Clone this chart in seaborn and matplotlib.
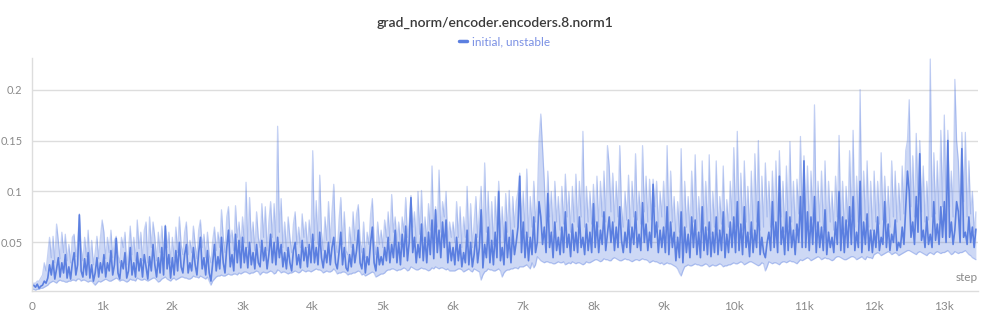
import numpy as np
import pandas as pd
import matplotlib
matplotlib.use("Agg")
import matplotlib.pyplot as plt
import seaborn as sns

# values in thousandths, one entry every 25 steps (0 .. 13450)
mean_vals = [
    7, 8, 6, 9, 5, 7, 8, 12, 10, 15,
    28, 18, 32, 14, 24, 35, 16, 30, 20, 38,
    15, 26, 14, 30, 40, 18, 28, 77, 22, 16,
    34, 18, 40, 15, 28, 12, 20, 35, 16, 30,
    20, 38, 16, 30, 22, 42, 18, 28, 54, 20,
    14, 32, 24, 40, 15, 22, 45, 18, 30, 16,
    40, 22, 34, 16, 38, 26, 14, 36, 22, 48,
    28, 16, 35, 20, 45, 18, 66, 24, 38, 15,
    35, 18, 42, 22, 50, 26, 20, 38, 48, 20,
    30, 22, 45, 28, 18, 40, 55, 24, 35, 18,
    42, 20, 12, 30, 48, 22, 36, 24, 55, 30,
    20, 45, 62, 26, 38, 22, 58, 30, 52, 25,
    55, 30, 45, 25, 50, 28, 40, 24, 48, 30,
    26, 52, 32, 45, 24, 38, 58, 30, 50, 28,
    55, 35, 48, 26, 40, 24, 45, 30, 22, 42,
    50, 28, 38, 25, 52, 32, 45, 26, 48, 30,
    58, 30, 45, 28, 60, 35, 25, 42, 30, 50,
    28, 45, 55, 30, 24, 40, 60, 28, 45, 25,
    22, 38, 26, 48, 30, 42, 62, 30, 24, 44,
    20, 36, 28, 50, 65, 30, 22, 45, 28, 36,
    28, 45, 32, 55, 30, 48, 35, 62, 30, 50,
    28, 58, 36, 66, 32, 50, 94, 40, 55, 30,
    48, 35, 68, 32, 55, 30, 60, 38, 72, 34,
    82, 40, 62, 35, 70, 45, 72, 30, 50, 32,
    45, 28, 55, 32, 48, 26, 40, 30, 62, 28,
    50, 26, 38, 58, 30, 45, 82, 25, 48, 35,
    65, 30, 52, 28, 60, 35, 100, 32, 45, 28,
    70, 35, 55, 30, 62, 38, 50, 65, 115, 40,
    70, 35, 60, 32, 55, 38, 75, 40, 50, 90,
    75, 48, 65, 40, 98, 45, 60, 35, 70, 42,
    55, 38, 65, 40, 80, 45, 58, 36, 68, 42,
    60, 40, 75, 45, 55, 38, 68, 42, 60, 40,
    88, 45, 70, 40, 62, 48, 80, 42, 58, 75,
    50, 70, 42, 65, 45, 85, 52, 40, 60, 45,
    72, 40, 65, 48, 80, 45, 58, 42, 89, 50,
    68, 42, 60, 45, 107, 55, 70, 40, 62, 45,
    65, 40, 85, 38, 70, 45, 60, 32, 55, 35,
    80, 30, 65, 40, 58, 35, 75, 45, 72, 38,
    60, 35, 85, 42, 65, 38, 70, 36, 60, 40,
    75, 38, 62, 42, 80, 35, 58, 40, 70, 45,
    75, 40, 90, 42, 68, 38, 85, 45, 60, 36,
    70, 40, 62, 45, 90, 38, 55, 40, 35, 50,
    60, 42, 90, 45, 70, 40, 115, 48, 65, 38,
    80, 42, 75, 45, 62, 38, 68, 50, 95, 45,
    130, 45, 80, 42, 75, 48, 95, 40, 70, 45,
    65, 42, 82, 38, 60, 45, 55, 40, 70, 48,
    100, 42, 75, 40, 72, 45, 85, 48, 95, 42,
    60, 45, 110, 40, 70, 48, 78, 42, 62, 40,
    62, 45, 75, 42, 55, 48, 90, 45, 68, 42,
    58, 50, 72, 42, 50, 45, 65, 48, 85, 120,
    100, 55, 70, 48, 95, 60, 137, 52, 62, 45,
    75, 48, 58, 45, 90, 52, 68, 48, 85, 55,
    90, 50, 150, 55, 70, 48, 62, 90, 80, 50,
    142, 55, 60, 48, 75, 50, 65, 45, 63,
]
max_vals = [
    9, 10, 10, 12, 12, 15, 18, 30, 22, 38,
    55, 35, 56, 30, 68, 52, 34, 60, 40, 58,
    32, 48, 30, 55, 58, 36, 50, 78, 45, 32,
    55, 36, 62, 30, 52, 28, 40, 56, 34, 55,
    72, 60, 34, 55, 40, 62, 35, 52, 56, 38,
    30, 55, 45, 60, 28, 42, 66, 38, 55, 32,
    72, 44, 60, 32, 62, 70, 30, 75, 45, 70,
    55, 32, 60, 40, 66, 38, 67, 45, 60, 30,
    55, 35, 65, 40, 75, 48, 38, 60, 70, 38,
    52, 40, 66, 48, 34, 62, 72, 45, 58, 35,
    60, 38, 30, 52, 65, 42, 60, 45, 82, 55,
    40, 75, 85, 50, 62, 42, 86, 55, 70, 45,
    75, 50, 109, 45, 94, 50, 70, 42, 80, 55,
    45, 88, 55, 85, 42, 70, 90, 55, 88, 50,
    164, 60, 93, 45, 70, 42, 75, 55, 40, 68,
    80, 48, 65, 45, 78, 55, 70, 45, 72, 50,
    140, 52, 91, 48, 116, 60, 42, 75, 52, 90,
    50, 80, 107, 52, 40, 72, 94, 48, 80, 42,
    38, 65, 45, 80, 52, 78, 87, 52, 40, 70,
    35, 60, 48, 78, 93, 52, 38, 70, 48, 62,
    45, 72, 55, 80, 52, 97, 60, 75, 50, 70,
    48, 75, 60, 94, 55, 70, 96, 65, 80, 50,
    100, 58, 101, 52, 75, 50, 88, 62, 125, 55,
    85, 65, 121, 60, 90, 75, 100, 50, 70, 55,
    70, 50, 90, 55, 85, 45, 75, 55, 105, 50,
    88, 45, 70, 95, 55, 80, 105, 50, 128, 60,
    100, 52, 90, 48, 95, 60, 110, 55, 85, 50,
    98, 60, 101, 52, 95, 65, 90, 100, 118, 70,
    100, 60, 122, 55, 95, 65, 110, 70, 90, 150,
    176, 143, 110, 65, 120, 75, 100, 60, 110, 70,
    95, 62, 105, 68, 117, 75, 100, 60, 105, 70,
    117, 65, 110, 75, 159, 65, 105, 70, 100, 68,
    107, 70, 115, 65, 110, 75, 120, 70, 145, 125,
    80, 118, 70, 110, 75, 145, 85, 65, 100, 72,
    116, 65, 110, 75, 137, 72, 100, 68, 145, 80,
    115, 70, 112, 72, 112, 85, 110, 65, 100, 75,
    110, 65, 145, 62, 120, 70, 95, 55, 90, 60,
    142, 52, 110, 65, 95, 60, 120, 70, 136, 62,
    95, 60, 130, 68, 110, 62, 136, 58, 100, 65,
    130, 62, 95, 68, 125, 58, 92, 65, 110, 72,
    143, 65, 159, 68, 118, 62, 130, 70, 105, 58,
    120, 62, 137, 70, 150, 62, 115, 65, 128, 75,
    110, 65, 120, 70, 130, 62, 140, 75, 110, 60,
    125, 65, 149, 70, 110, 62, 112, 78, 154, 70,
    135, 70, 125, 65, 120, 72, 185, 65, 110, 70,
    120, 65, 130, 60, 110, 70, 100, 62, 115, 75,
    155, 65, 110, 62, 105, 70, 140, 75, 160, 65,
    115, 70, 200, 65, 120, 72, 130, 65, 110, 62,
    120, 70, 110, 68, 138, 72, 115, 70, 105, 65,
    130, 75, 120, 70, 108, 72, 125, 78, 140, 150,
    190, 85, 135, 75, 157, 90, 150, 80, 125, 70,
    110, 72, 230, 75, 138, 78, 130, 72, 160, 85,
    175, 80, 160, 85, 120, 75, 210, 150, 130, 80,
    158, 90, 158, 75, 130, 78, 100, 60, 80,
]
min_vals = [
    4, 4, 3, 4, 4, 5, 5, 6, 7, 8, 10, 11, 12, 11, 10, 12, 13, 12, 12, 11,
    11, 12, 12, 13, 13, 12, 14, 14, 12, 13, 13, 12, 11, 12, 12, 10, 8, 10, 12, 11,
    12, 13, 14, 13, 12, 12, 13, 14, 15, 14, 12, 13, 13, 12, 11, 12, 14, 13, 13, 12,
    15, 14, 13, 13, 14, 13, 12, 13, 14, 15, 15, 13, 11, 12, 14, 15, 16, 14, 13, 12,
    14, 15, 13, 14, 15, 16, 16, 15, 15, 14, 14, 15, 17, 16, 16, 15, 17, 16, 15, 14,
    16, 12, 8, 12, 14, 16, 17, 17, 18, 17, 17, 18, 19, 18, 18, 19, 19, 18, 20, 19,
    20, 21, 21, 20, 19, 20, 20, 21, 22, 21, 18, 20, 21, 20, 20, 21, 22, 21, 19, 20,
    23, 22, 20, 21, 21, 20, 19, 20, 20, 21, 22, 21, 20, 21, 23, 22, 21, 22, 22, 21,
    22, 23, 24, 23, 23, 22, 20, 21, 22, 21, 21, 22, 24, 22, 19, 20, 20, 21, 21, 20,
    18, 19, 19, 20, 20, 21, 22, 21, 18, 19, 17, 18, 19, 20, 21, 20, 16, 17, 18, 19,
    19, 20, 22, 23, 23, 24, 24, 23, 22, 23, 23, 24, 25, 24, 22, 23, 26, 25, 24, 23,
    23, 24, 25, 24, 24, 23, 22, 23, 25, 24, 26, 25, 24, 25, 25, 24, 23, 24, 22, 22,
    22, 22, 23, 24, 24, 23, 21, 22, 23, 24, 22, 21, 24, 23, 22, 21, 13, 18, 21, 22,
    24, 23, 23, 22, 22, 23, 24, 22, 16, 20, 22, 23, 23, 24, 24, 25, 25, 24, 26, 26,
    26, 27, 28, 26, 24, 30, 25, 28, 36, 34, 32, 31, 30, 31, 31, 30, 30, 29, 29, 30,
    31, 30, 30, 31, 28, 29, 30, 29, 31, 30, 29, 30, 30, 29, 28, 29, 31, 30, 30, 31,
    32, 33, 33, 32, 31, 32, 34, 33, 33, 32, 32, 34, 35, 34, 33, 32, 32, 33, 34, 33,
    33, 32, 31, 32, 33, 33, 32, 33, 34, 33, 33, 32, 30, 31, 32, 31, 31, 30, 29, 30,
    28, 29, 30, 29, 29, 28, 27, 26, 24, 20, 17, 22, 26, 27, 28, 27, 27, 28, 29, 28,
    28, 27, 27, 28, 29, 28, 26, 27, 28, 27, 27, 28, 29, 28, 26, 27, 27, 28, 28, 29,
    30, 29, 29, 30, 31, 30, 28, 29, 30, 31, 31, 30, 29, 28, 27, 28, 30, 29, 22, 26,
    31, 30, 29, 30, 30, 29, 28, 30, 31, 31, 30, 31, 32, 31, 31, 30, 29, 31, 33, 32,
    33, 34, 35, 34, 32, 33, 34, 35, 36, 35, 33, 34, 35, 34, 34, 33, 32, 33, 35, 36,
    36, 35, 34, 33, 33, 34, 35, 36, 36, 35, 33, 34, 35, 36, 34, 33, 36, 35, 35, 34,
    38, 39, 40, 39, 37, 38, 39, 40, 41, 40, 38, 39, 40, 39, 37, 38, 39, 40, 41, 42,
    42, 41, 40, 39, 38, 40, 41, 40, 39, 38, 37, 39, 40, 39, 38, 40, 41, 40, 39, 40,
    40, 41, 42, 40, 38, 39, 41, 40, 39, 40, 40, 41, 42, 40, 38, 37, 35, 34, 33,
]

x_tick_vals = [0, 1000, 2000, 3000, 4000, 5000, 6000, 7000, 8000, 9000, 10000, 11000, 12000, 13000]
x_tick_labels = ["0", "1k", "2k", "3k", "4k", "5k", "6k", "7k", "8k", "9k", "10k", "11k", "12k", "13k"]
y_tick_vals = [0.05, 0.1, 0.15, 0.2]
y_tick_labels = ["0.05", "0.1", "0.15", "0.2"]

title = "grad_norm/encoder.encoders.8.norm1"
series_name = "initial, unstable"

n = min(len(mean_vals), len(max_vals), len(min_vals))
steps = np.arange(n) * 25
df = pd.DataFrame({
    "step": steps,
    "mean": np.array(mean_vals[:n]) / 1000.0,
    "max": np.array(max_vals[:n]) / 1000.0,
    "min": np.array(min_vals[:n]) / 1000.0,
})

sns.set_theme(style="white")
plt.rcParams["font.family"] = ["Lato", "DejaVu Sans"]

line_color = "#5b7fe0"
grid_color = "#dddddd"
text_grey = "#8a8a8a"

fig = plt.figure(figsize=(9.9, 3.24), dpi=100)
ax = fig.add_axes([32 / 990, 1 - 291 / 324, (978 - 32) / 990, (291 - 58) / 324])

ax.fill_between(df["step"], df["min"], df["max"], color=line_color, alpha=0.3, linewidth=0)
sns.lineplot(data=df, x="step", y="max", ax=ax, color=line_color, alpha=0.35, linewidth=0.9)
sns.lineplot(data=df, x="step", y="min", ax=ax, color=line_color, alpha=0.35, linewidth=0.9)
sns.lineplot(data=df, x="step", y="mean", ax=ax, color=line_color, linewidth=1.2, label=series_name)

ax.set_xlim(0, 13480)
ax.set_ylim(0.0023, 0.231)
ax.set_xticks(x_tick_vals)
ax.set_xticklabels(x_tick_labels)
ax.set_yticks(y_tick_vals)
ax.set_yticklabels(y_tick_labels)
ax.set_xlabel("")
ax.set_ylabel("")

ax.grid(axis="y", color=grid_color, linewidth=1.0)
ax.grid(axis="x", visible=False)
ax.set_axisbelow(True)
for s in ["top", "right"]:
    ax.spines[s].set_visible(False)
ax.spines["left"].set_color(grid_color)
ax.spines["bottom"].set_color(grid_color)
ax.spines["left"].set_linewidth(1.0)
ax.spines["bottom"].set_linewidth(1.0)

ax.tick_params(axis="x", colors=text_grey, labelsize=8.5, length=4, width=1, direction="out", color=grid_color, pad=3)
ax.tick_params(axis="y", colors=text_grey, labelsize=8, length=0, pad=7)
for lbl in ax.get_xticklabels() + ax.get_yticklabels():
    lbl.set_color(text_grey)

ax.text(1.0, 0.06, "step", transform=ax.transAxes, ha="right", va="center",
        fontsize=8.5, color=text_grey)

fig.text(0.5, 1 - 23 / 324, title, ha="center", va="center", fontsize=10,
         color="#3a3a3a", fontweight="semibold")

leg = ax.legend(loc="center", bbox_to_anchor=(0.5, 1 + 16 / 233), frameon=False,
                handlelength=0.6, handletextpad=0.5, fontsize=8.5, labelcolor="#7a90e4")
for h in leg.get_lines():
    h.set_linewidth(2.5)

fig.savefig("out.png", dpi=100)
